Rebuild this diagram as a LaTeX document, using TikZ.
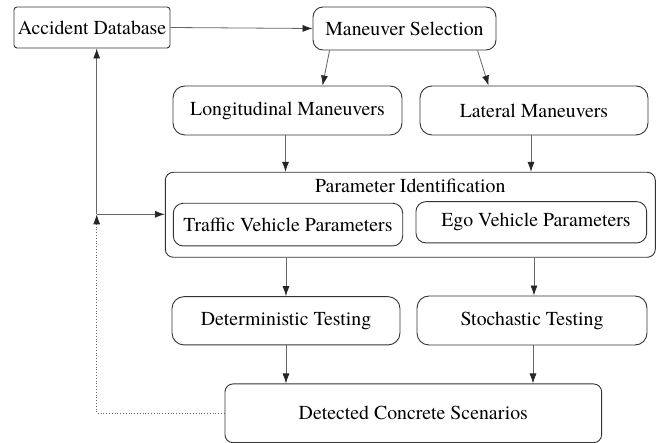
\documentclass[tikz,border=0pt]{standalone}
\usepackage{fontspec}
\setmainfont{texgyretermes-regular.otf}
\usetikzlibrary{arrows.meta,calc}
\begin{document}
\begin{tikzpicture}[x=1pt,y=-1pt,
  every node/.style={font=\fontsize{19.8}{23}\selectfont, text=black},
  box/.style={draw=black!80, line width=0.9pt, inner sep=0pt, align=center},
  conn/.style={draw=black!60, line width=0.8pt, arrows={-{Latex[length=10pt,width=7pt,color=black!85]}}},
  dconn/.style={conn, dotted}
]
\useasboundingbox (0,0) rectangle (662,443);
\node[box, rounded corners=3pt, minimum width=156pt, minimum height=41pt] (acc) at (92,27.5) {Accident Database};
\node[box, rounded corners=10pt, minimum width=183pt, minimum height=43pt] (man) at (404.5,28.5) {Maneuver Selection};
\node[box, rounded corners=12pt, minimum width=229pt, minimum height=49pt] (lon) at (287.5,110.5) {Longitudinal Maneuvers};
\node[box, rounded corners=12pt, minimum width=228pt, minimum height=49pt] (lat) at (534,110.5) {Lateral Maneuvers};
\node[box, rounded corners=8pt, minimum width=490pt, minimum height=85pt] (par) at (410.3,214.8) {};
\node (ptitle) at (410.3,186) {Parameter Identification};
\node[box, rounded corners=10pt, minimum width=229.4pt, minimum height=42.7pt] (tra) at (288,224.6) {Traffic Vehicle Parameters};
\node[box, rounded corners=10pt, minimum width=230.7pt, minimum height=41.3pt] (ego) at (531.3,222.3) {};
\node (egot) at (536,222.3) {Ego Vehicle Parameters};
\node[box, rounded corners=12pt, minimum width=228pt, minimum height=48.3pt] (det) at (286,320.8) {Deterministic Testing};
\node[box, rounded corners=12pt, minimum width=230pt, minimum height=49pt] (sto) at (532,320.5) {Stochastic Testing};
\node[box, rounded corners=8pt, minimum width=376.7pt, minimum height=58.7pt] (dcs) at (413.3,413.3) {Detected Concrete Scenarios};
\coordinate (j) at (96.7,214.3);

\draw[conn] (acc.east) -- (man.west);
\draw[conn] ([xshift=17pt]man.south west) -- ([xshift=150pt]lon.north west);
\draw[conn] ([xshift=165pt]man.south west) -- ([xshift=69pt]lat.north west);
\draw[conn] ([xshift=-2pt]lon.south) -- ([xshift=-2pt]lon.south |- par.north);
\draw[conn] ([xshift=-3pt]lat.south) -- ([xshift=-3pt]lat.south |- par.north);
\draw[conn] (det.north |- par.south) -- (det.north);
\draw[conn] ([xshift=2pt]sto.north |- par.south) -- ([xshift=2pt]sto.north);
\draw[conn] (det.south) -- (det.south |- dcs.north);
\draw[conn] ([xshift=1pt]sto.south) -- ([xshift=1pt]sto.south |- dcs.north);
\draw[conn] (j) -- (j |- acc.south);
\draw[conn] (j) -- (j -| par.west);
\draw[dconn] (dcs.west) -| (j);
\end{tikzpicture}
\end{document}
